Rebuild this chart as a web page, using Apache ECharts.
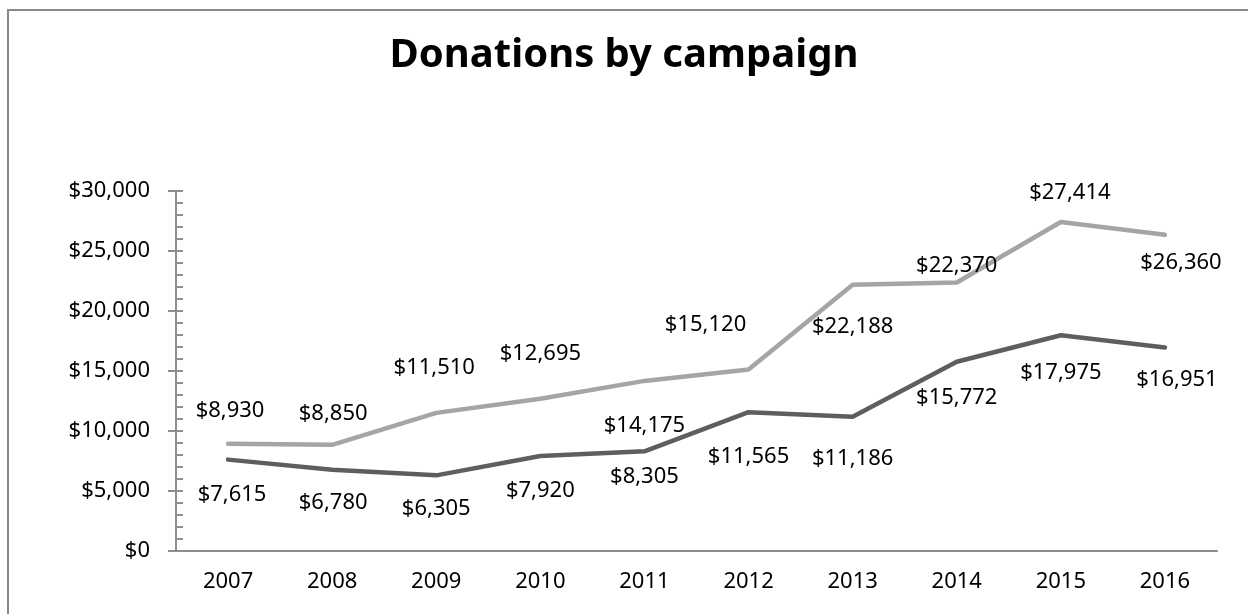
<!DOCTYPE html>
<html>
<head>
<meta charset="utf-8">
<script src="https://cdn.jsdelivr.net/npm/echarts@6/dist/echarts.min.js"></script>
<style>
html,body{margin:0;padding:0;background:#fff;}
#c{width:1248px;height:614px;}
</style>
</head>
<body>
<div id="c"></div>
<script>
const years = ['2007','2008','2009','2010','2011','2012','2013','2014','2015','2016'];
const campaignA = [8930, 8850, 11510, 12695, 14175, 15120, 22188, 22370, 27414, 26360];
const campaignB = [7615, 6780, 6305, 7920, 8305, 11565, 11186, 15772, 17975, 16951];
const yTicks = [0, 5000, 10000, 15000, 20000, 25000, 30000];

// label placement (style only): [dx, dy] from the point to the label centre
const offsetsA = [[2,-33],[1,-31],[-2,-45],[0,-45],[0,45],[-43,-45],[0,42],[0,-17],[9,-29],[16,28]];
const offsetsB = [[4,35],[1,33],[0,33],[0,35],[0,25],[0,45],[0,42],[0,36],[0,37],[12,32]];

const fmt = v => '$' + v.toLocaleString('en-US');

const chart = echarts.init(document.getElementById('c'), null, { renderer: 'canvas' });
const labelFont = { fontFamily: 'Noto Sans', fontSize: 22, color: '#000' };

function lineSeries(vals, offs, color, z) {
  return {
    type: 'line',
    data: vals,
    symbol: 'circle',
    symbolSize: 2,
    showSymbol: true,
    itemStyle: { color: 'rgba(0,0,0,0)', borderWidth: 0 },
    lineStyle: { color: color, width: 4.5, cap: 'round', join: 'round' },
    label: { show: true, position: 'inside', ...labelFont, formatter: p => fmt(p.value) },
    labelLayout: p => ({ dx: offs[p.dataIndex][0], dy: offs[p.dataIndex][1], hideOverlap: false }),
    z: z
  };
}

chart.setOption({
  animation: false,
  backgroundColor: '#fff',
  title: {
    text: 'Donations by campaign',
    left: 'center',
    top: 31,
    textStyle: { fontFamily: 'Noto Sans', fontWeight: 'bold', fontSize: 40, color: '#000' }
  },
  graphic: [{
    type: 'rect',
    shape: { x: 8, y: 10, width: 1260, height: 700 },
    style: { fill: 'none', stroke: '#888', lineWidth: 2 },
    silent: true
  }],
  grid: { left: 176, right: 31, top: 191, bottom: 63, containLabel: false },
  xAxis: {
    type: 'category',
    data: years,
    boundaryGap: true,
    axisLine: { lineStyle: { color: '#8c8c8c', width: 2 } },
    axisTick: { show: false },
    axisLabel: { ...labelFont, margin: 20 }
  },
  yAxis: [{
    type: 'value',
    min: yTicks[0],
    max: yTicks[yTicks.length - 1],
    interval: 5000,
    axisLine: { show: true, lineStyle: { color: '#8c8c8c', width: 2 } },
    axisTick: { show: true, inside: true, length: 7, lineStyle: { color: '#8c8c8c', width: 2 } },
    minorTick: { show: true, splitNumber: 5, length: 7, lineStyle: { color: '#8c8c8c', width: 2 } },
    splitLine: { show: false },
    axisLabel: { ...labelFont, margin: 26, formatter: v => fmt(v) }
  }, {
    type: 'value',
    position: 'left',
    min: yTicks[0],
    max: yTicks[yTicks.length - 1],
    interval: 5000,
    axisLine: { show: false },
    axisTick: { show: true, inside: false, length: 8, lineStyle: { color: '#8c8c8c', width: 2 } },
    splitLine: { show: false },
    axisLabel: { show: false }
  }],
  series: [
    lineSeries(campaignA, offsetsA, '#A5A5A5', 3),
    lineSeries(campaignB, offsetsB, '#5E5E5E', 4)
  ]
});
</script>
</body>
</html>
